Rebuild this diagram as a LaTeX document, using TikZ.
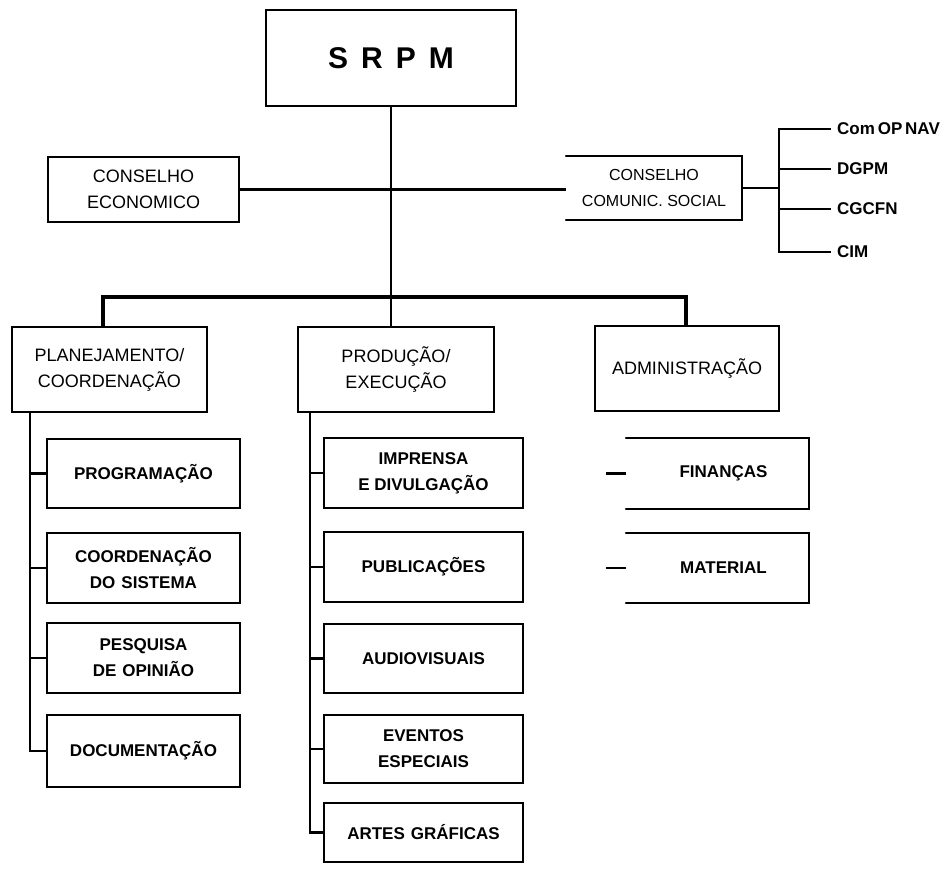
\documentclass[tikz,border=0pt]{standalone}
\usepackage{fontspec}
\setmainfont{Liberation Sans}
\usetikzlibrary{calc}
\begin{document}
\begin{tikzpicture}[x=1pt,y=-1pt,
  box/.style={draw,line width=2pt,rectangle,inner sep=0pt,align=center},
  openbox/.style={rectangle,inner sep=0pt,align=center},
  sized/.style 2 args={minimum width=#1pt,minimum height=#2pt},
  headtxt/.style={font=\fontsize{18}{26}\selectfont},
  socialtxt/.style={font=\fontsize{16}{26}\selectfont},
  subtxt/.style={font=\bfseries\fontsize{17}{26}\selectfont},
  listtxt/.style={font=\bfseries\fontsize{17}{20}\selectfont,anchor=west,inner sep=0pt},
  mainline/.style={line width=3.6pt},
  midline/.style={line width=2.8pt},
  link/.style={line width=2.2pt},
  edge3/.style={line width=2pt,line cap=round}
]
\useasboundingbox (0,0) rectangle (942,870);
\fill[white] (0,0) rectangle (942,870);

% top level
\node[box,sized={250}{96},font=\bfseries\fontsize{30}{34}\selectfont] (srpm) at (391,58)
  {S\hspace{13pt}R\hspace{13pt}P\hspace{13pt}M};

% councils
\node[box,sized={191}{65},headtxt] (ce) at (143.5,189.5) {CONSELHO\\ECONOMICO};
\node[openbox,sized={176}{63},socialtxt] (ccs) at (654,188) {CONSELHO\\COMUNIC. SOCIAL};
\draw[edge3] (ccs.north west) -- (ccs.north east) -- (ccs.south east) -- (ccs.south west);

% departments
\node[box,sized={195}{85},headtxt] (plan) at (109.5,369.5) {PLANEJAMENTO/\\COORDENAÇÃO};
\node[box,sized={196}{85},headtxt] (prod) at (396,369.5) {PRODUÇÃO/\\EXECUÇÃO};
\node[box,sized={184}{85},headtxt] (adm) at (687,368.5) {ADMINISTRAÇÃO};

% planning units
\node[box,sized={193}{69},subtxt] (prog) at (143.5,473.5) {PROGRAMAÇÃO};
\node[box,sized={193}{70},subtxt] (coord) at (143.5,568) {COORDENAÇÃO\\DO\hspace{6pt}SISTEMA};
\node[box,sized={193}{70},subtxt] (pesq) at (143.5,658) {PESQUISA\\DE\hspace{6pt}OPINIÃO};
\node[box,sized={193}{72},subtxt] (doc) at (143.5,751) {DOCUMENTAÇÃO};

% production units
\node[box,sized={199}{70},subtxt] (impr) at (423.5,473) {IMPRENSA\\E DIVULGAÇÃO};
\node[box,sized={199}{70},subtxt] (publ) at (423.5,567) {PUBLICAÇÕES};
\node[box,sized={199}{69},subtxt] (audio) at (423.5,658.5) {AUDIOVISUAIS};
\node[box,sized={199}{68},subtxt] (evt) at (423.5,749) {EVENTOS\\ESPECIAIS};
\node[box,sized={199}{59},subtxt] (artes) at (423.5,832.5) {ARTES\hspace{6pt}GRÁFICAS};

% administration units
\node[openbox,sized={183}{71},subtxt] (fin) at (717.5,473.5) {\hspace{12pt}FINANÇAS};
\node[openbox,sized={183}{70},subtxt] (mat) at (717.5,568) {\hspace{12pt}MATERIAL};
\draw[edge3] (fin.north west) -- (fin.north east) -- (fin.south east) -- (fin.south west);
\draw[edge3] (mat.north west) -- (mat.north east) -- (mat.south east) -- (mat.south west);
\draw[link] ($(fin.west)+(-20,0)$) -- (fin.west);
\draw[link] ($(mat.west)+(-20,0)$) -- (mat.west);

% communication bodies
\node[listtxt] (comop) at (837,129) {Com\,OP\,NAV};
\node[listtxt] (dgpm) at (837,169) {DGPM};
\node[listtxt] (cgcfn) at (837,209) {CGCFN};
\node[listtxt] (cim) at (837,252) {CIM};
\coordinate (rtrunk) at (779,188);
\draw[link] (ccs.east) -- (rtrunk);
\draw[link] ($(comop.west)+(-6,0)$) -- (comop.west -| rtrunk) -- (cim.west -| rtrunk) -- ($(cim.west)+(-6,0)$);
\draw[link] (dgpm.west -| rtrunk) -- ($(dgpm.west)+(-6,0)$);
\draw[link] (cgcfn.west -| rtrunk) -- ($(cgcfn.west)+(-6,0)$);

% main hierarchy lines
\coordinate (bar) at (391,297);
\coordinate (dropL) at (103,297);
\coordinate (dropR) at (686,297);
\draw[midline] (ce.east) -- (ce.east -| ccs.west);
\draw[midline] (srpm.south) -- (bar);
\draw[mainline] (plan.north -| dropL) -- (dropL) -- (dropR) -- (adm.north -| dropR);
\draw[midline] (bar) -- (prod.north -| bar);

% planning trunk
\coordinate (ltrunk) at (30,412);
\draw[link] (plan.south -| ltrunk) -- (doc.west -| ltrunk) -- (doc.west);
\draw[link] (prog.west -| ltrunk) -- (prog.west);
\draw[link] (coord.west -| ltrunk) -- (coord.west);
\draw[link] (pesq.west -| ltrunk) -- (pesq.west);

% production trunk
\coordinate (mtrunk) at (310,412);
\draw[link] (prod.south -| mtrunk) -- (artes.west -| mtrunk) -- (artes.west);
\draw[link] (impr.west -| mtrunk) -- (impr.west);
\draw[link] (publ.west -| mtrunk) -- (publ.west);
\draw[link] (audio.west -| mtrunk) -- (audio.west);
\draw[link] (evt.west -| mtrunk) -- (evt.west);
\end{tikzpicture}
\end{document}
